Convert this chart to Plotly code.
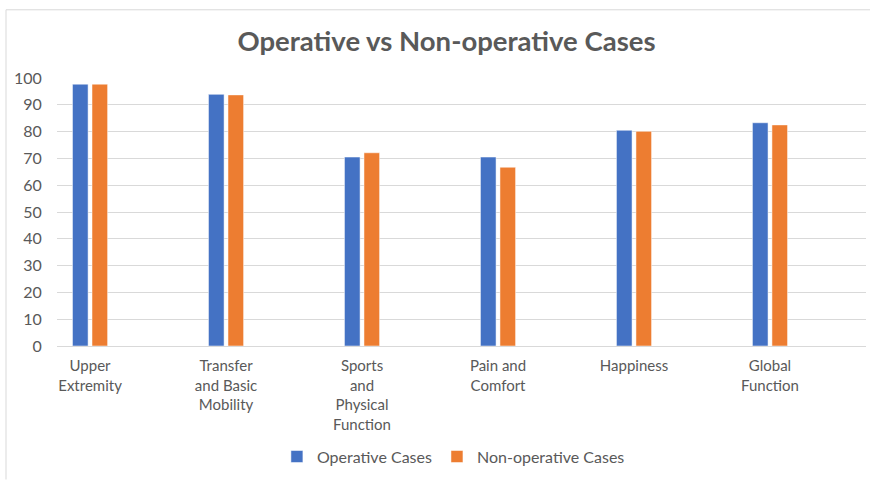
import plotly.graph_objects as go

categories = ["Upper<br>Extremity", "Transfer<br>and Basic<br>Mobility", "Sports<br>and<br>Physical<br>Function",
              "Pain and<br>Comfort", "Happiness", "Global<br>Function"]
operative = [97.7, 93.9, 70.5, 70.5, 80.5, 83.3]
non_operative = [97.7, 93.7, 72.1, 66.7, 80.1, 82.5]
y_ticks = [0, 10, 20, 30, 40, 50, 60, 70, 80, 90, 100]

FONT = "Lato, 'Open Sans', sans-serif"

fig = go.Figure()
fig.add_trace(go.Bar(name="Operative Cases", x=categories, y=operative,
                     marker=dict(color="#4472C4", line=dict(color="#ffffff", width=0.5))))
fig.add_trace(go.Bar(name="Non-operative Cases", x=categories, y=non_operative,
                     marker=dict(color="#ED7D31", line=dict(color="#ffffff", width=0.5))))

L, R, T, B = 57, 13, 78, 132
W, H = 879, 485
pw, ph = W - L - R, H - T - B

fig.update_layout(
    width=W, height=H,
    margin=dict(l=L, r=R, t=T, b=B),
    paper_bgcolor="white", plot_bgcolor="white",
    barmode="group", bargap=0.713, bargroupgap=0.2,
    font=dict(family=FONT, color="#595959", size=15),
    title=dict(text="<b>Operative vs Non-operative Cases</b>", x=(446.5 - L) / pw * pw / W + L / W,
               xanchor="center", xref="paper",
               y=1 - 41 / H, yanchor="middle", font=dict(size=27.5, color="#595959", family=FONT)),
    showlegend=True,
    legend=dict(orientation="h", x=0.49, xanchor="center", y=(H - 466.5 - B) / ph, yanchor="middle",
                font=dict(size=16, color="#595959"), itemwidth=30, traceorder="normal"),
    xaxis=dict(type="category", range=[-0.243, 5.706], showgrid=False, showline=True,
               linecolor="#D9D9D9", linewidth=1, ticks="outside", ticklen=6, tickcolor="rgba(0,0,0,0)",
               tickfont=dict(size=15, color="#595959"), fixedrange=True),
    yaxis=dict(range=[0, 100], tickvals=y_ticks, showgrid=True, gridcolor="#D9D9D9", gridwidth=1,
               zeroline=False, showline=False, tickfont=dict(size=16, color="#595959"),
               ticks="outside", ticklen=11, tickcolor="rgba(0,0,0,0)"),
    shapes=[
        dict(type="line", xref="paper", yref="paper", x0=(6 - L) / pw, x1=(870 - L) / pw,
             y0=(H - B - 8) / ph, y1=(H - B - 8) / ph, line=dict(color="#D9D9D9", width=1)),
        dict(type="line", xref="paper", yref="paper", x0=(6 - L) / pw, x1=(6 - L) / pw,
             y0=(H - B - 8) / ph, y1=(H - B - 490) / ph, line=dict(color="#D9D9D9", width=1)),
    ],
)
# title x in paper coords -> convert to plot-area fraction
fig.update_layout(title_x=(446.5 - L) / pw)

fig.write_html("out.html", config={"displayModeBar": False},
               post_script="document.body.style.margin='0';")
